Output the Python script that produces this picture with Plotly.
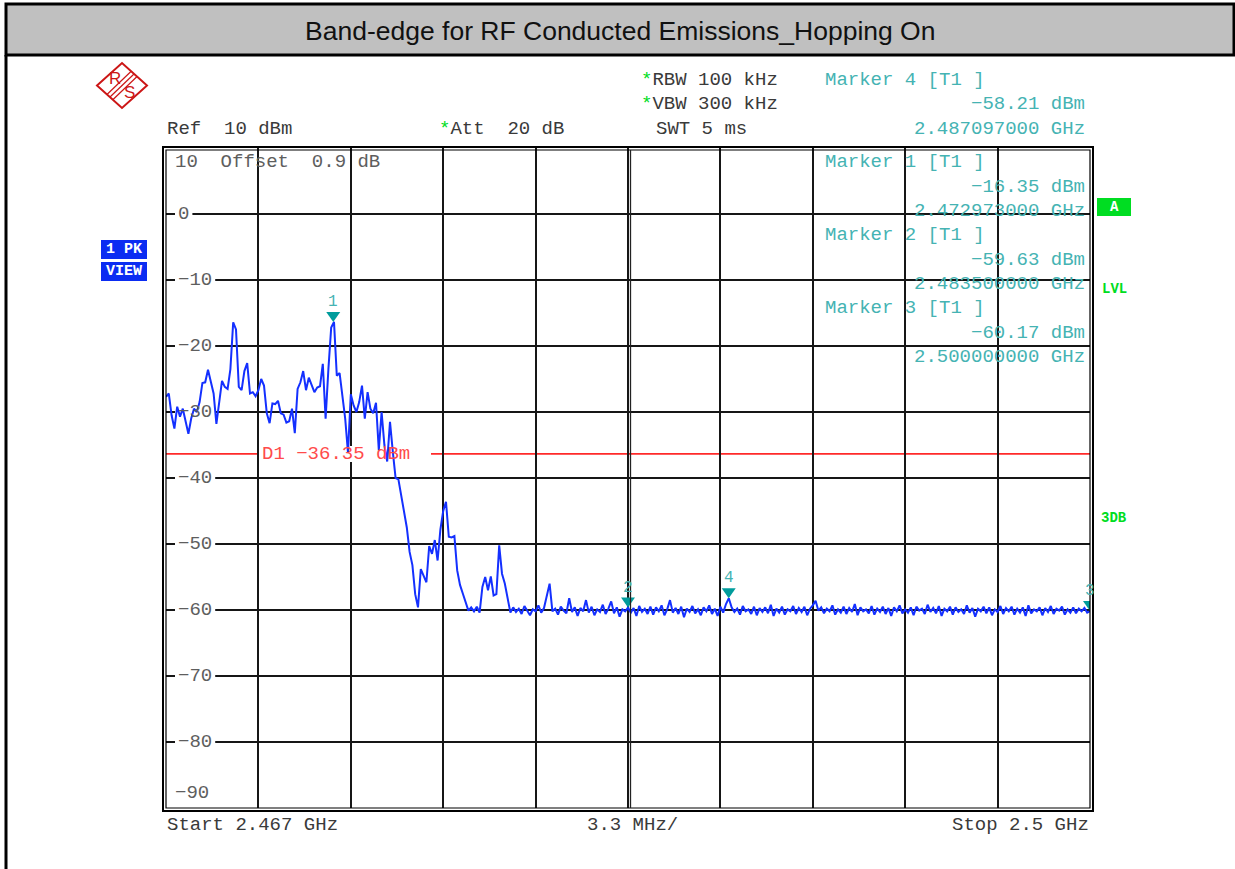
import plotly.graph_objects as go

# ---- sweep settings -------------------------------------------------------
start_ghz = 2.467
stop_ghz = 2.500
ref_level_dbm = 10
bottom_level_dbm = -90
rbw_khz = 100
vbw_khz = 300
att_db = 20
swt_ms = 5
offset_db = 0.9
d1_dbm = -36.35

# ---- trace 1 (max peak), evenly spaced across the span ----------------------
level_dbm = [
    -27.7, -27.2, -30.5, -32.5, -29.2, -30.7, -29.5, -31.4, -33.3, -31.0,
    -29.5, -30.0, -28.5, -25.6, -25.5, -23.6, -25.5, -27.2, -31.8, -28.5,
    -25.3, -26.2, -26.5, -23.5, -16.4, -17.5, -26.2, -26.7, -23.8, -22.6,
    -27.2, -27.0, -27.6, -26.7, -25.0, -26.0, -30.2, -31.7, -28.7, -28.8,
    -28.3, -30.2, -30.4, -31.6, -31.4, -29.5, -33.2, -26.5, -25.5, -23.8,
    -26.7, -24.8, -25.9, -27.0, -26.3, -26.1, -22.7, -31.0, -23.5, -17.2,
    -16.35, -24.5, -24.1, -28.0, -31.0, -36.2, -27.3, -29.0, -30.0, -28.5,
    -26.0, -31.0, -27.0, -29.5, -30.2, -28.6, -35.8, -30.0, -35.0, -37.5,
    -31.5, -36.0, -40.0, -40.2, -42.8, -45.5, -47.5, -51.2, -53.2, -57.6,
    -59.6, -53.8, -54.8, -55.8, -50.3, -51.5, -49.4, -52.5, -47.8, -45.0,
    -43.6, -48.9, -49.0, -48.8, -54.0, -56.2, -57.5, -58.8, -60.1, -59.6,
    -60.2, -59.5, -60.4, -56.5, -55.0, -57.0, -54.9, -57.8, -57.6, -50.2,
    -54.5, -56.0, -58.5, -60.4,
    -59.6, -60.3, -59.8, -60.6, -59.4, -60.1, -60.8, -59.9, -60.2, -59.3,
    -60.4, -59.7, -58.0, -56.0, -60.2, -59.8, -60.7, -59.5, -60.1, -60.5,
    -58.2, -60.3, -59.6, -60.9, -59.7, -60.2, -58.5, -60.4, -59.5, -60.8,
    -59.9, -60.3, -59.2, -60.6, -59.8, -58.7, -60.5, -59.6, -61.0, -59.9,
    -60.2, -59.63, -60.4, -59.7, -60.9, -59.4, -60.3, -59.8, -60.6, -59.5,
    -60.7, -59.6, -60.2, -59.3, -60.8, -59.9, -58.5, -60.4, -59.7, -60.6,
    -59.5, -61.1, -59.8, -60.3, -59.4, -60.5, -59.9, -60.8, -59.6, -60.2,
    -59.3, -60.6, -59.8, -60.9, -59.5, -60.4, -59.1, -58.21, -59.6, -60.3,
    -59.8, -60.7, -59.4, -60.2, -59.9, -60.6, -59.5, -60.8, -59.7, -60.3,
    -59.6, -60.5, -59.2, -60.9, -59.8, -60.4, -59.5, -60.7, -59.9, -60.2,
    -59.4, -60.6, -59.7, -60.3, -59.5, -60.8, -59.8, -59.3, -58.6, -60.1,
    -59.6, -60.5, -59.8, -60.2, -59.3, -60.7, -59.9, -60.4, -59.5, -60.6,
    -59.7, -60.3, -59.1, -60.8, -59.6, -60.2, -59.9, -60.5, -59.4, -60.7,
    -59.8, -60.3, -59.5, -60.6, -59.7, -60.9, -59.6, -60.2, -59.3, -60.5,
    -59.9, -60.4, -59.6, -60.8, -59.5, -60.1, -59.8, -60.6, -59.2, -60.3,
    -59.7, -60.5, -59.4, -60.9, -59.8, -60.2, -59.5, -60.7, -59.6, -60.3,
    -59.9, -60.6, -59.3, -60.4, -59.7, -61.0, -59.8, -60.2, -59.5, -60.5,
    -59.6, -60.8, -59.9, -60.3, -59.4, -60.6, -59.7, -60.2, -59.5, -60.7,
    -59.8, -60.4, -59.6, -60.9, -59.3, -60.5, -59.9, -60.2, -59.6, -60.8,
    -59.7, -60.3, -59.4, -60.6, -59.8, -60.1, -59.5, -60.7, -59.9, -60.4,
    -59.6, -60.5, -59.8, -60.2, -59.7, -60.4, -60.17,
]

# ---- markers ----------------------------------------------------------------
marker_ids = [1, 2, 3, 4]
marker_freq_ghz = [2.472973, 2.483500, 2.500000, 2.487097]
marker_level_dbm = [-16.35, -59.63, -60.17, -58.21]

# level grid labels
level_ticks = [0, -10, -20, -30, -40, -50, -60, -70, -80]

n_points = len(level_dbm)
step_ghz = (stop_ghz - start_ghz) / (n_points - 1)
freq_ghz = [start_ghz + i * step_ghz for i in range(n_points)]

# ---- page geometry (pixels) -------------------------------------------------
FIG_W, FIG_H = 1235, 869
PL, PR, PT, PB = 166, 1090, 148, 808
DB_PER_PX = (ref_level_dbm - bottom_level_dbm) / (PB - PT)


def xp(px):
    return (px - PL) / (PR - PL)


def yp(py):
    return (PB - py) / (PB - PT)


def fx(px):
    """Pixel column inside the graticule -> frequency in GHz."""
    return start_ghz + xp(px) * (stop_ghz - start_ghz)


MONO = "Liberation Mono, Courier New, monospace"
SANS = "Liberation Sans, Arial, sans-serif"
TEAL_TXT = "#45b3b3"
TEAL_MK = "#009c9c"
GREEN = "#00dd22"
RED = "#ff2a2a"
RS_RED = "#cc1616"
BLUE_BOX = "#0b2cf2"
DARK = "#3a3a3a"
GRAY = "#5e5e5e"
FS = 19
CHAR_W = 0.6 * FS


def dbm(v):
    return f"{v:.2f}".replace("-", "\u2212") + " dBm"


def ghz(v):
    return f"{v:.9f} GHz"


NB = "\u00a0"

fig = go.Figure()


def white_patch(px0, px1, level, half_px=8):
    """White box under a label that sits on a graticule line."""
    d = half_px * DB_PER_PX
    fig.add_trace(go.Scatter(
        x=[fx(px0), fx(px1), fx(px1), fx(px0), fx(px0)],
        y=[level - d, level - d, level + d, level + d, level - d],
        mode="lines", fill="toself", fillcolor="white",
        line=dict(width=0, color="white"), hoverinfo="skip",
    ))


for v in level_ticks:
    lab = str(v).replace("-", "\u2212")
    white_patch(175, 175 + CHAR_W * len(lab) + 6, v)
white_patch(259, 431, d1_dbm)

fig.add_trace(go.Scatter(
    x=freq_ghz, y=level_dbm, mode="lines",
    line=dict(color="#1430ff", width=2), hoverinfo="skip",
))

fig.update_layout(
    width=FIG_W, height=FIG_H,
    margin=dict(l=PL, r=FIG_W - PR, t=PT, b=FIG_H - PB),
    paper_bgcolor="white", plot_bgcolor="white", showlegend=False,
    xaxis=dict(range=[start_ghz, stop_ghz], tick0=start_ghz,
               dtick=(stop_ghz - start_ghz) / 10, showticklabels=False,
               ticks="", showgrid=True, gridcolor="#161616", gridwidth=1.6,
               zeroline=False, showline=False, fixedrange=True),
    yaxis=dict(range=[bottom_level_dbm, ref_level_dbm], tick0=0, dtick=10,
               showticklabels=False, ticks="", showgrid=True,
               gridcolor="#161616", gridwidth=1.6, zeroline=False,
               showline=False, fixedrange=True),
)

shapes = []
annos = []


def text(px_x, px_y, s, color=DARK, size=FS, anchor="left", family=MONO, **kw):
    annos.append(dict(x=xp(px_x), y=yp(px_y), xref="paper", yref="paper",
                      text=s, showarrow=False, xanchor=anchor,
                      yanchor="middle", font=dict(family=family, size=size,
                                                  color=color), **kw))


def rect(x0, y0, x1, y1, fill=None, line_color=None, width=0, layer="above"):
    shapes.append(dict(type="rect", xref="paper", yref="paper",
                       x0=xp(x0), x1=xp(x1), y0=yp(y0), y1=yp(y1),
                       fillcolor=fill if fill else "rgba(0,0,0,0)",
                       line=dict(color=line_color or "rgba(0,0,0,0)",
                                 width=width), layer=layer))


def seg(x0, y0, x1, y1, color="black", width=1.5, layer="above"):
    shapes.append(dict(type="line", xref="paper", yref="paper",
                       x0=xp(x0), x1=xp(x1), y0=yp(y0), y1=yp(y1),
                       line=dict(color=color, width=width), layer=layer))


# title band
rect(6, 4, 1234, 55, fill="#c0c0c0", line_color="black", width=3)
seg(6, 55, 6, FIG_H, width=3)
text(620, 31, "Band-edge for RF Conducted Emissions_Hopping On",
     color="#111111", size=26.5, anchor="center", family=SANS)

# R&S logo
cx, cy = 122, 85.5
diamond = "M {},{} L {},{} L {},{} L {},{} Z".format(
    xp(cx - 25), yp(cy), xp(cx), yp(cy - 22.5), xp(cx + 25), yp(cy),
    xp(cx), yp(cy + 22.5))
shapes.append(dict(type="path", xref="paper", yref="paper", path=diamond,
                   line=dict(color=RS_RED, width=2)))
for off in (-2.8, 0, 2.8):
    seg(cx - 12 + off, cy + 11.5 + off, cx + 12 + off, cy - 11.5 + off,
        color=RS_RED, width=1.2)
text(cx - 7, cy - 7, "R", color=RS_RED, size=17, anchor="center", family=SANS)
text(cx + 7, cy + 7, "S", color=RS_RED, size=17, anchor="center", family=SANS)

# trace mode boxes
rect(101, 240, 147, 259, fill=BLUE_BOX)
rect(101, 262, 147, 281, fill=BLUE_BOX)
text(124, 249.5, "<b>1 PK</b>", color="white", size=15, anchor="center")
text(124, 271.5, "<b>VIEW</b>", color="white", size=15, anchor="center")

# right-hand status markers
rect(1097, 198, 1131, 216, fill=GREEN)
text(1114, 207, "<b>A</b>", color="white", size=14, anchor="center")
text(1114, 289, "<b>LVL</b>", color=GREEN, size=14, anchor="center")
text(1114, 518, "<b>3DB</b>", color=GREEN, size=14, anchor="center")

# header settings
star = f"<span style='color:{GREEN}'>*</span>"
text(639, 80, f"{star}RBW{NB}{rbw_khz}{NB}kHz")
text(639, 104, f"{star}VBW{NB}{vbw_khz}{NB}kHz")
text(165, 129, f"Ref{NB}{NB}{ref_level_dbm}{NB}dBm")
text(437, 129, f"{star}Att{NB}{NB}{att_db}{NB}dB")
text(654, 129, f"SWT{NB}{swt_ms}{NB}ms")

# marker readouts: marker 4 in the header, 1-3 inside the graticule
m4 = marker_ids.index(4)
text(823, 80, f"Marker{NB}{marker_ids[m4]}{NB}[T1{NB}]", color=TEAL_TXT)
text(1087, 104, dbm(marker_level_dbm[m4]), color=TEAL_TXT, anchor="right")
text(1087, 129, ghz(marker_freq_ghz[m4]), color=TEAL_TXT, anchor="right")
for k in range(3):
    base = 162 + 73 * k
    text(823, base, f"Marker{NB}{marker_ids[k]}{NB}[T1{NB}]", color=TEAL_TXT)
    text(1087, base + 24.5, dbm(marker_level_dbm[k]), color=TEAL_TXT,
         anchor="right")
    text(1087, base + 49, ghz(marker_freq_ghz[k]), color=TEAL_TXT,
         anchor="right")

# level labels on the graticule
text(173, 162, f"{ref_level_dbm}{NB}{NB}Offset{NB}{NB}{offset_db}{NB}dB",
     color=GRAY)
for v in level_ticks:
    lab = str(v).replace("-", "\u2212")
    annos.append(dict(x=xp(176), y=v, xref="paper", yref="y", text=lab,
                      showarrow=False, xanchor="left", yanchor="middle",
                      font=dict(family=MONO, size=FS, color=GRAY)))
text(173, 793, str(bottom_level_dbm).replace("-", "\u2212"), color=GRAY)

# display line D1
shapes.append(dict(type="line", xref="paper", yref="y", x0=0, x1=1,
                   y0=d1_dbm, y1=d1_dbm, line=dict(color=RED, width=1.6),
                   layer="between"))
annos.append(dict(x=xp(260), y=d1_dbm, xref="paper", yref="y",
                  text=f"D1{NB}{dbm(d1_dbm).replace(' ', NB)}",
                  showarrow=False, xanchor="left", yanchor="middle",
                  font=dict(family=MONO, size=FS, color="#ff4b4b")))

# marker symbols: downward triangle with its tip on the marker level
for mid, f, lv in zip(marker_ids, marker_freq_ghz, marker_level_dbm):
    shapes.append(dict(type="path", xref="x", yref="y", xsizemode="pixel",
                       ysizemode="pixel", xanchor=f, yanchor=lv,
                       path="M -7,10 L 7,10 L 0,0 Z", fillcolor=TEAL_MK,
                       line=dict(width=0)))
    annos.append(dict(x=f, y=lv, xref="x", yref="y", text=str(mid),
                      showarrow=False, yshift=20, xanchor="center",
                      yanchor="middle",
                      font=dict(family=MONO, size=16, color=TEAL_TXT)))

# graticule frame (double line) and doubled centre line
rect(163, 147, 1093, 811, line_color="black", width=2)
rect(166, 150, 1090, 808, line_color="black", width=1.2)
seg(630.5, 150, 630.5, 808, color="#222222", width=1.3)

# span annotation below the graticule
span_mhz = (stop_ghz - start_ghz) * 1000 / 10
text(165, 825, f"Start{NB}{start_ghz:.3f}{NB}GHz")
text(632, 825, f"{span_mhz:.1f}{NB}MHz/", anchor="center")
text(1091, 825, f"Stop{NB}{stop_ghz:.1f}{NB}GHz", anchor="right")

fig.update_layout(shapes=shapes, annotations=annos)
fig.write_html("out.html")
